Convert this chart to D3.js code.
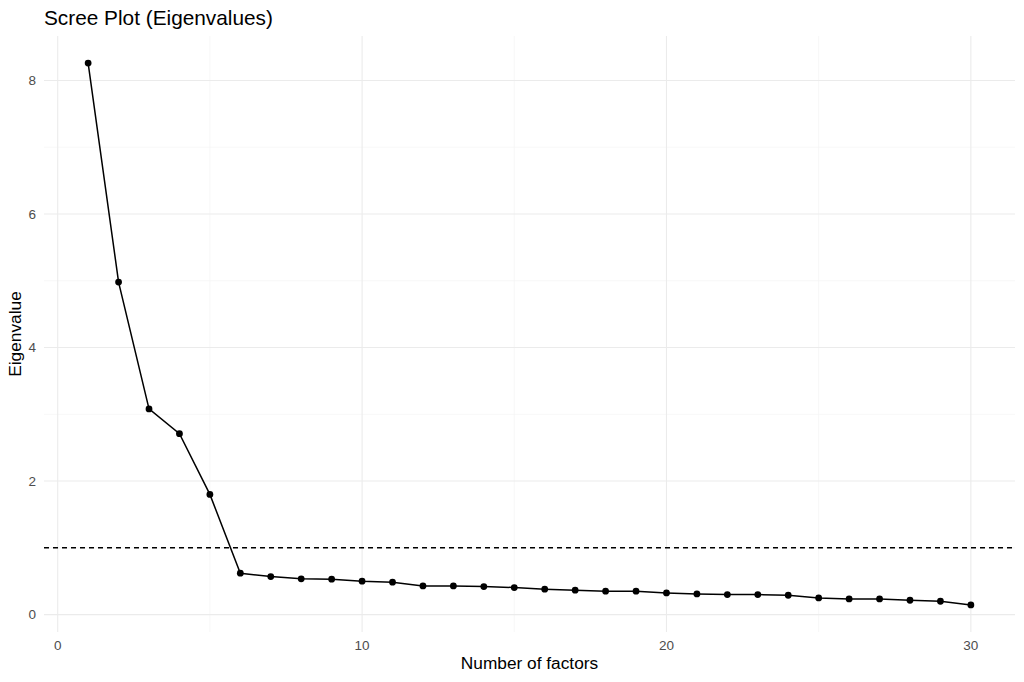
<!DOCTYPE html>
<html lang="en">
<head>
  <meta charset="UTF-8"/>
  <title>Scree Plot</title>
  <script src="https://d3js.org/d3.v7.min.js"></script>
  <style>
    body { margin:0; background:#fff; font-family:"Liberation Sans",Arial,sans-serif; }
    svg { display:block; }
    .grid-major { stroke:#ebebeb; stroke-width:1.1; }
    .grid-minor { stroke:#f3f3f3; stroke-width:0.7; }
    .tick-label { fill:#4d4d4d; font-size:13.5px; }
    .axis-title { fill:#000; font-size:17.3px; }
  </style>
</head>
<body>
  <svg width="1024" height="682"></svg>
  <script>
    // data
    const factors = d3.range(1, 31);
    const eigenvalues = [
      8.26, 4.98, 3.08, 2.71, 1.80, 0.62, 0.57, 0.535, 0.53, 0.50,
      0.485, 0.43, 0.43, 0.42, 0.405, 0.38, 0.365, 0.35, 0.35, 0.325,
      0.31, 0.30, 0.30, 0.29, 0.25, 0.235, 0.235, 0.215, 0.20, 0.145
    ];
    const refLine = 1;
    const xTicks = [0, 10, 20, 30], xMinor = [5, 15, 25];
    const yTicks = [0, 2, 4, 6, 8], yMinor = [1, 3, 5, 7];
    const points = factors.map((f, i) => ({ f, v: eigenvalues[i] }));

    const svg = d3.select('svg');
    const panel = { left:44, right:1015, top:36, bottom:632 };

    // ggplot-like 5% expansion
    const expand = ([a, b]) => { const p = (b - a) * 0.05; return [a - p, b + p]; };
    const x = d3.scaleLinear().domain(expand(d3.extent(factors))).range([panel.left, panel.right]);
    const y = d3.scaleLinear().domain(expand(d3.extent(eigenvalues.concat([refLine]))))
      .range([panel.bottom, panel.top]);

    const g = svg.append('g');

    // grid
    g.selectAll('.gx-minor').data(xMinor).join('line').attr('class', 'grid-minor')
      .attr('x1', d => x(d)).attr('x2', d => x(d)).attr('y1', panel.top).attr('y2', panel.bottom);
    g.selectAll('.gy-minor').data(yMinor).join('line').attr('class', 'grid-minor')
      .attr('y1', d => y(d)).attr('y2', d => y(d)).attr('x1', panel.left).attr('x2', panel.right);
    g.selectAll('.gx').data(xTicks).join('line').attr('class', 'grid-major')
      .attr('x1', d => x(d)).attr('x2', d => x(d)).attr('y1', panel.top).attr('y2', panel.bottom);
    g.selectAll('.gy').data(yTicks).join('line').attr('class', 'grid-major')
      .attr('y1', d => y(d)).attr('y2', d => y(d)).attr('x1', panel.left).attr('x2', panel.right);

    // reference line
    g.append('line')
      .attr('x1', panel.left).attr('x2', panel.right)
      .attr('y1', y(refLine)).attr('y2', y(refLine))
      .attr('stroke', '#000').attr('stroke-width', 1.5).attr('stroke-dasharray', '5,4');

    // line + points
    g.append('path').datum(points)
      .attr('fill', 'none').attr('stroke', '#000').attr('stroke-width', 1.5)
      .attr('d', d3.line().x(d => x(d.f)).y(d => y(d.v)));
    g.selectAll('.pt').data(points).join('circle')
      .attr('cx', d => x(d.f)).attr('cy', d => y(d.v)).attr('r', 3.4).attr('fill', '#000');

    // tick labels
    svg.selectAll('.xl').data(xTicks).join('text').attr('class', 'tick-label')
      .attr('x', d => x(d)).attr('y', 650).attr('text-anchor', 'middle').text(d => d);
    svg.selectAll('.yl').data(yTicks).join('text').attr('class', 'tick-label')
      .attr('x', 36).attr('y', d => y(d)).attr('dy', '0.35em').attr('text-anchor', 'end').text(d => d);

    // titles
    svg.append('text').attr('class', 'axis-title')
      .attr('x', (panel.left + panel.right) / 2).attr('y', 669).attr('text-anchor', 'middle')
      .text('Number of factors');
    svg.append('text').attr('class', 'axis-title')
      .attr('transform', `translate(21,${(panel.top + panel.bottom) / 2}) rotate(-90)`)
      .attr('text-anchor', 'middle').text('Eigenvalue');
    svg.append('text')
      .attr('x', panel.left).attr('y', 25).attr('font-size', '20.8px').attr('fill', '#000')
      .text('Scree Plot (Eigenvalues)');
  </script>
</body>
</html>
